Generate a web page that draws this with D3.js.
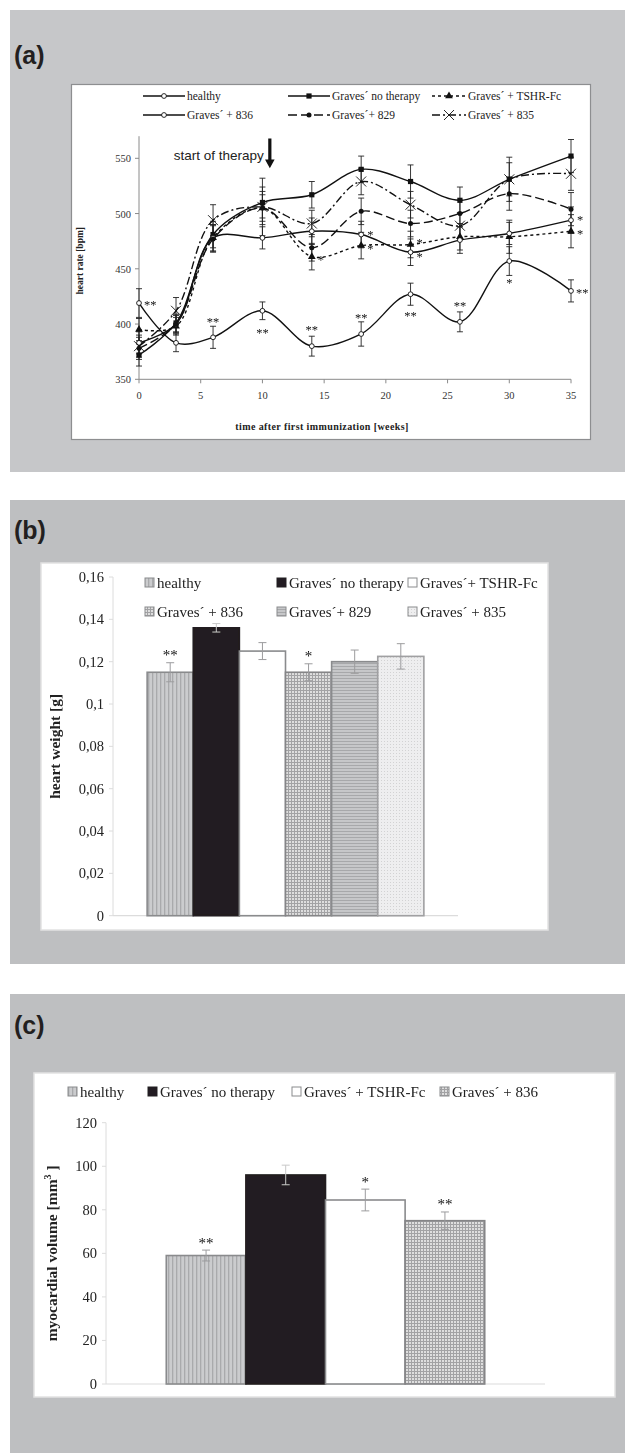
<!DOCTYPE html>
<html><head><meta charset="utf-8">
<script src="https://cdn.jsdelivr.net/npm/d3@7"></script>
<style>body{margin:0;background:#fff}svg{display:block}</style>
</head><body>
<svg id="fig" width="625" height="1453"></svg>
<script>
// ---- (a) heart rate over time ----
const weeks = [0, 3, 6, 10, 14, 18, 22, 26, 30, 35];
const hrTicks = [350, 400, 450, 500, 550];
const weekTicks = [0, 5, 10, 15, 20, 25, 30, 35];
const hrHealthy   = [419, 383, 388, 412, 380, 391, 427, 402, 457, 430];
const hrNoTherapy = [372, 401, 481, 510, 517, 540, 529, 512, 531, 552];
const hrTSHR      = [395, 398, 478, 505, 461, 471, 472, 479, 479, 484];
const hr836       = [383, 400, 478, 478, 484, 481, 465, 476, 482, 494];
const hr829       = [378, 400, 477, 505, 469, 502, 491, 500, 518, 504];
const hr835       = [380, 412, 494, 506, 491, 529, 508, 489, 531, 536];
const errHealthy   = [13, 8, 10, 8, 9, 11, 10, 9, 13, 10];
const errNoTherapy = [10, 8, 12, 14, 12, 12, 15, 12, 15, 15];
const errTSHR      = [10, 8, 12, 15, 12, 12, 12, 12, 15, 15];
const err836       = [10, 8, 12, 10, 12, 12, 12, 12, 10, 12];
const err829       = [10, 8, 12, 12, 12, 12, 12, 12, 15, 15];
const err835       = [10, 12, 14, 26, 12, 12, 12, 12, 20, 15];
const sigHealthy   = ["**", "", "**", "**", "**", "**", "**", "**", "*", "**"];
const sigHealthyAt = ["right", "", "above", "below", "above", "above", "below", "above", "below", "right"];
const sig836  = ["", "", "", "", "", "*", "*", "", "", "*"];
const sigTSHR = ["", "", "", "", "*", "*", "*", "", "", "*"];
const therapyStartWeek = 10.6;
const hrLegend = ["healthy", "Graves´ no therapy", "Graves´ + TSHR-Fc", "Graves´ + 836", "Graves´+ 829", "Graves´ + 835"];

// ---- (b) heart weight ----
const weightGroups = ["healthy", "Graves´ no therapy", "Graves´+ TSHR-Fc", "Graves´ + 836", "Graves´+ 829", "Graves´ + 835"];
const heartWeight = [0.115, 0.136, 0.125, 0.115, 0.120, 0.1225];
const heartWeightErr = [0.0045, 0.002, 0.004, 0.004, 0.0055, 0.006];
const heartWeightSig = ["**", "", "", "*", "", ""];
const weightTicks = [0, 0.02, 0.04, 0.06, 0.08, 0.1, 0.12, 0.14, 0.16];
const weightTickLabels = ["0", "0,02", "0,04", "0,06", "0,08", "0,1", "0,12", "0,14", "0,16"];

// ---- (c) myocardial volume ----
const volumeGroups = ["healthy", "Graves´ no therapy", "Graves´ + TSHR-Fc", "Graves´ + 836"];
const myoVolume = [59, 96, 84.5, 75];
const myoVolumeErr = [2.5, 4.5, 5, 4];
const myoVolumeSig = ["**", "", "*", "**"];
const volumeTicks = [0, 20, 40, 60, 80, 100, 120];

const SERIF = "'Liberation Serif','Times New Roman',serif";
const SANS = "'Liberation Sans',Arial,sans-serif";

const svg = d3.select("#fig");
const defs = svg.append("defs");

// bar fill patterns
function pattern(id, w, h, bg, draw) {
  const p = defs.append("pattern").attr("id", id)
    .attr("patternUnits", "userSpaceOnUse").attr("width", w).attr("height", h);
  p.append("rect").attr("width", w).attr("height", h).attr("fill", bg);
  draw(p);
}
pattern("pVert", 4, 4, "#cbccce", p => p.append("rect").attr("width", 1.3).attr("height", 4).attr("fill", "#a9aaac"));
pattern("pGrid", 3, 3, "#dedede", p => {
  p.append("rect").attr("width", 3).attr("height", 1).attr("fill", "#a2a2a4");
  p.append("rect").attr("width", 1).attr("height", 3).attr("fill", "#a2a2a4");
});
pattern("pHoriz", 4, 3, "#c6c7c9", p => p.append("rect").attr("width", 4).attr("height", 1).attr("fill", "#a7a8aa"));
pattern("pDots", 3, 3, "#eeeeef", p => p.append("rect").attr("width", 1).attr("height", 1).attr("fill", "#d2d2d3"));
const groupFill = ["url(#pVert)", "#231f20", "#ffffff", "url(#pGrid)", "url(#pHoriz)", "url(#pDots)"];
const groupStroke = ["#8a8b8d", "#231f20", "#8a8b8d", "#858587", "#8a8b8d", "#a0a0a2"];

defs.append("filter").attr("id", "soft").attr("x", "-5%").attr("y", "-5%").attr("width", "110%").attr("height", "110%")
  .append("feGaussianBlur").attr("stdDeviation", 0.6);
defs.append("filter").attr("id", "crisp").attr("x", "-5%").attr("y", "-5%").attr("width", "110%").attr("height", "110%")
  .append("feGaussianBlur").attr("stdDeviation", 0.2);

// panel backgrounds
function panel(y0, y1, fill) {
  svg.append("rect").attr("x", 10).attr("y", y0).attr("width", 615).attr("height", y1 - y0).attr("fill", fill);
}
panel(10, 472, "#c6c7c9");
panel(500, 964, "#bebfc1");
panel(994, 1453, "#bebfc1");

function panelLabel(txt, y) {
  svg.append("text").attr("x", 14).attr("y", y).attr("font-family", SANS).attr("font-weight", "bold")
    .attr("font-size", 25).attr("fill", "#231f20").text(txt);
}
panelLabel("(a)", 64);
panelLabel("(b)", 539);
panelLabel("(c)", 1034);

// ================= panel (a) =================
svg.append("rect").attr("x", 71.5).attr("y", 84.5).attr("width", 519).attr("height", 355)
  .attr("fill", "#fff").attr("stroke", "#8d8e90").attr("stroke-width", 1.2);

const xa = d3.scaleLinear().domain([0, 35]).range([139, 571]);
const ya = d3.scaleLinear().domain([350, 570]).range([379.3, 136.2]);
const ga = svg.append("g");

// axes
const axA = ga.append("g").attr("stroke", "#8a8a8a").attr("stroke-width", 1);
axA.append("line").attr("x1", xa(0)).attr("x2", xa(0)).attr("y1", ya(570)).attr("y2", ya(350));
axA.append("line").attr("x1", xa(0)).attr("x2", xa(35)).attr("y1", ya(350)).attr("y2", ya(350));
axA.selectAll(".yt").data(hrTicks).join("line")
  .attr("x1", xa(0) - 4).attr("x2", xa(0)).attr("y1", d => ya(d)).attr("y2", d => ya(d));
axA.selectAll(".xt").data(weekTicks).join("line")
  .attr("x1", d => xa(d)).attr("x2", d => xa(d)).attr("y1", ya(350)).attr("y2", ya(350) + 4);
ga.selectAll(".ytl").data(hrTicks).join("text")
  .attr("x", xa(0) - 8).attr("y", d => ya(d) + 4).attr("text-anchor", "end")
  .attr("font-family", SERIF).attr("font-size", 10.5).attr("fill", "#333").text(d => d);
ga.selectAll(".xtl").data(weekTicks).join("text")
  .attr("x", d => xa(d)).attr("y", ya(350) + 20).attr("text-anchor", "middle")
  .attr("font-family", SERIF).attr("font-size", 10.5).attr("fill", "#333").text(d => d);
ga.append("text").attr("transform", `translate(83,${(ya(350) + ya(570)) / 2 + 3}) rotate(-90)`)
  .attr("text-anchor", "middle").attr("font-family", SERIF).attr("font-weight", "bold")
  .attr("font-size", 9.5).attr("fill", "#222").text("heart rate [bpm]");
ga.append("text").attr("x", 322).attr("y", 430).attr("text-anchor", "middle")
  .attr("font-family", SERIF).attr("font-weight", "bold").attr("font-size", 10)
  .attr("letter-spacing", 0.4).attr("fill", "#222").text("time after first immunization [weeks]");

// start of therapy marker
const ax = xa(therapyStartWeek);
ga.append("text").attr("x", ax - 6).attr("y", ya(548.5)).attr("text-anchor", "end")
  .attr("font-family", SANS).attr("font-size", 13.5).attr("fill", "#222").text("start of therapy");
ga.append("path").attr("fill", "#111")
  .attr("d", `M${ax - 1.6},${ya(568)} L${ax + 1.6},${ya(568)} L${ax + 1.6},${ya(549)} L${ax + 4.8},${ya(549)} L${ax},${ya(541)} L${ax - 4.8},${ya(549)} L${ax - 1.6},${ya(549)} Z`);

// series definitions
const series = [
  { name: hrLegend[0], v: hrHealthy, e: errHealthy, dash: null, marker: "openCircle" },
  { name: hrLegend[1], v: hrNoTherapy, e: errNoTherapy, dash: null, marker: "square" },
  { name: hrLegend[2], v: hrTSHR, e: errTSHR, dash: "3,3", marker: "triangle" },
  { name: hrLegend[3], v: hr836, e: err836, dash: null, marker: "openCircle" },
  { name: hrLegend[4], v: hr829, e: err829, dash: "9,4", marker: "dot" },
  { name: hrLegend[5], v: hr835, e: err835, dash: "8,3,2,3", marker: "cross" }
];

function drawMarker(g, type, cx, cy) {
  if (type === "openCircle") {
    g.append("circle").attr("cx", cx).attr("cy", cy).attr("r", 2.4).attr("fill", "#fff").attr("stroke", "#111").attr("stroke-width", 0.9);
  } else if (type === "square") {
    g.append("rect").attr("x", cx - 2.6).attr("y", cy - 2.6).attr("width", 5.2).attr("height", 5.2).attr("fill", "#111");
  } else if (type === "triangle") {
    g.append("path").attr("transform", `translate(${cx},${cy})`).attr("d", d3.symbol(d3.symbolTriangle, 26)()).attr("fill", "#111");
  } else if (type === "dot") {
    g.append("circle").attr("cx", cx).attr("cy", cy).attr("r", 2.5).attr("fill", "#111");
  } else if (type === "cross") {
    g.append("path").attr("d", `M${cx - 5},${cy - 5}L${cx + 5},${cy + 5}M${cx - 5},${cy + 5}L${cx + 5},${cy - 5}`)
      .attr("stroke", "#111").attr("stroke-width", 0.9).attr("fill", "none");
  }
}

// error bars
const gErr = ga.append("g").attr("stroke", "#222").attr("stroke-width", 0.9);
series.forEach(s => {
  weeks.forEach((w, i) => {
    const cx = xa(w), lo = ya(s.v[i] - s.e[i]), hi = ya(s.v[i] + s.e[i]);
    gErr.append("line").attr("x1", cx).attr("x2", cx).attr("y1", lo).attr("y2", hi);
    gErr.append("line").attr("x1", cx - 3).attr("x2", cx + 3).attr("y1", lo).attr("y2", lo);
    gErr.append("line").attr("x1", cx - 3).attr("x2", cx + 3).attr("y1", hi).attr("y2", hi);
  });
});

// smoothed lines
const lineGen = d3.line().x((d, i) => xa(weeks[i])).y(d => ya(d)).curve(d3.curveCatmullRom.alpha(0.5));
series.forEach(s => {
  ga.append("path").attr("d", lineGen(s.v)).attr("fill", "none").attr("stroke", "#111")
    .attr("stroke-width", 1.4).attr("stroke-dasharray", s.dash);
});
// markers
series.forEach(s => {
  weeks.forEach((w, i) => drawMarker(ga, s.marker, xa(w), ya(s.v[i])));
});

// significance marks
function star(g, txt, cx, cy, fs, anchor) {
  g.append("text").attr("x", cx).attr("y", cy + fs * 0.5).attr("text-anchor", anchor || "middle")
    .attr("font-family", SERIF).attr("font-size", fs).attr("fill", "#111").text(txt);
}
const gSig = ga.append("g").attr("filter", "url(#crisp)");
weeks.forEach((w, i) => {
  const t = sigHealthy[i];
  if (!t) return;
  const cx = xa(w), cy = ya(hrHealthy[i]), at = sigHealthyAt[i];
  if (at === "right") star(gSig, t, cx + 5, cy, 12.5, "start");
  else if (at === "above") star(gSig, t, cx, cy - 18, 12.5);
  else star(gSig, t, cx, cy + 20, 12.5);
});
weeks.forEach((w, i) => {
  let c836 = ya(hr836[i]) - 2, cTSHR = ya(hrTSHR[i]) + 1;
  // keep neighbouring marks at the same week apart
  if (sig836[i] && sigTSHR[i] && Math.abs(c836 - cTSHR) < 14) {
    const mid = (c836 + cTSHR) / 2, dir = c836 > cTSHR ? 1 : -1;
    c836 = mid + dir * 7; cTSHR = mid - dir * 7;
  }
  if (sig836[i]) star(gSig, sig836[i], xa(w) + 6, c836, 12.5, "start");
  if (sigTSHR[i]) star(gSig, sigTSHR[i], xa(w) + 6, cTSHR, 12.5, "start");
});

// legend (a)
const legA = ga.append("g");
const legAcols = [143, 288, 432];
const legAlen = [42, 42, 34];
const legArows = [96, 115];
series.forEach((s, k) => {
  const col = k % 3, row = Math.floor(k / 3);
  const x0 = legAcols[col], y0 = legArows[row], len = legAlen[col];
  legA.append("line").attr("x1", x0).attr("x2", x0 + len).attr("y1", y0).attr("y2", y0)
    .attr("stroke", "#111").attr("stroke-width", 1.4).attr("stroke-dasharray", s.dash);
  drawMarker(legA, s.marker, x0 + len / 2, y0);
  legA.append("text").attr("x", x0 + len + 2).attr("y", y0 + 3.5).attr("font-family", SERIF)
    .attr("font-size", 11.5).attr("fill", "#222").text(s.name);
});

// ================= bar panels =================
function barPanel(opt) {
  svg.append("rect").attr("x", opt.box[0]).attr("y", opt.box[1]).attr("width", opt.box[2]).attr("height", opt.box[3])
    .attr("fill", "#fff").attr("stroke", "#e2e2e2").attr("stroke-width", 1.5);
  const g = svg.append("g").attr("filter", "url(#soft)");
  const y = d3.scaleLinear().domain(opt.domain).range(opt.yRange);
  const x = d3.scaleBand().domain(opt.groups).range(opt.xRange).paddingInner(0).paddingOuter(opt.pad);
  // axes
  g.append("line").attr("x1", opt.xRange[0]).attr("x2", opt.xRange[0]).attr("y1", y(opt.domain[0])).attr("y2", y(opt.domain[1]))
    .attr("stroke", "#dcdcdc").attr("stroke-width", 1);
  g.append("line").attr("x1", opt.xRange[0]).attr("x2", opt.xRange[1]).attr("y1", y(0)).attr("y2", y(0))
    .attr("stroke", "#dcdcdc").attr("stroke-width", 1.2);
  g.selectAll(".t").data(opt.ticks).join("line")
    .attr("x1", opt.xRange[0] - 4).attr("x2", opt.xRange[0]).attr("y1", d => y(d)).attr("y2", d => y(d))
    .attr("stroke", "#dcdcdc");
  g.selectAll(".tl").data(opt.ticks).join("text")
    .attr("x", opt.xRange[0] - 9).attr("y", d => y(d) + 5).attr("text-anchor", "end")
    .attr("font-family", SERIF).attr("font-size", 14.5).attr("fill", "#222")
    .text((d, i) => opt.tickLabels[i]);
  // bars
  g.selectAll(".bar").data(opt.values).join("rect")
    .attr("x", (d, i) => x(opt.groups[i])).attr("width", x.bandwidth())
    .attr("y", d => y(d)).attr("height", d => y(0) - y(d))
    .attr("fill", (d, i) => groupFill[i]).attr("stroke", (d, i) => groupStroke[i]).attr("stroke-width", 1.6);
  // error bars
  opt.values.forEach((v, i) => {
    const cx = x(opt.groups[i]) + x.bandwidth() / 2, lo = y(v - opt.errors[i]), hi = y(v + opt.errors[i]);
    const ge = g.append("g").attr("stroke", i === 1 ? "#c8c8c8" : "#9c9c9e").attr("stroke-width", 1);
    ge.append("line").attr("x1", cx).attr("x2", cx).attr("y1", lo).attr("y2", hi);
    ge.append("line").attr("x1", cx - 4).attr("x2", cx + 4).attr("y1", hi).attr("y2", hi);
    ge.append("line").attr("x1", cx - 4).attr("x2", cx + 4).attr("y1", lo).attr("y2", lo);
    if (opt.sig[i]) star(g, opt.sig[i], cx, hi - 10, 15);
  });
  // y label
  const lbl = g.append("text").attr("transform", `translate(${opt.labelX},${(y(opt.domain[0]) + y(opt.domain[1])) / 2}) rotate(-90)`)
    .attr("text-anchor", "middle").attr("font-family", SERIF).attr("font-weight", "bold").attr("font-size", 15.5).attr("fill", "#222");
  opt.label(lbl);
  // legend
  opt.groups.forEach((name, i) => {
    const [lx, ly] = opt.legendAt(i);
    g.append("rect").attr("x", lx).attr("y", ly - 5).attr("width", 9).attr("height", 9)
      .attr("fill", groupFill[i]).attr("stroke", i === 1 ? "#231f20" : "#8a8b8d").attr("stroke-width", 1);
    g.append("text").attr("x", lx + 12).attr("y", ly + 5).attr("font-family", SERIF).attr("font-size", 15)
      .attr("fill", "#222").text(name);
  });
}

barPanel({
  box: [41, 563, 507, 367],
  groups: weightGroups, values: heartWeight, errors: heartWeightErr, sig: heartWeightSig,
  domain: [0, 0.16], yRange: [915.7, 577], xRange: [113, 458], pad: 0.74,
  ticks: weightTicks, tickLabels: weightTickLabels, labelX: 60,
  label: t => t.text("heart weight [g]"),
  legendAt: i => [[145, 277, 408][i % 3], [583, 612][Math.floor(i / 3)]]
});

barPanel({
  box: [34, 1073, 581, 324],
  groups: volumeGroups, values: myoVolume, errors: myoVolumeErr, sig: myoVolumeSig,
  domain: [0, 120], yRange: [1384, 1122.7], xRange: [106, 545], pad: 0.757,
  ticks: volumeTicks, tickLabels: volumeTicks.map(String), labelX: 57,
  label: t => {
    t.append("tspan").text("myocardial volume [mm");
    t.append("tspan").attr("dy", -6).attr("font-size", 10).text("3");
    t.append("tspan").attr("dy", 6).text(" ]");
  },
  legendAt: i => [[68, 148, 292, 440][i], 1092]
});
</script>
</body></html>
